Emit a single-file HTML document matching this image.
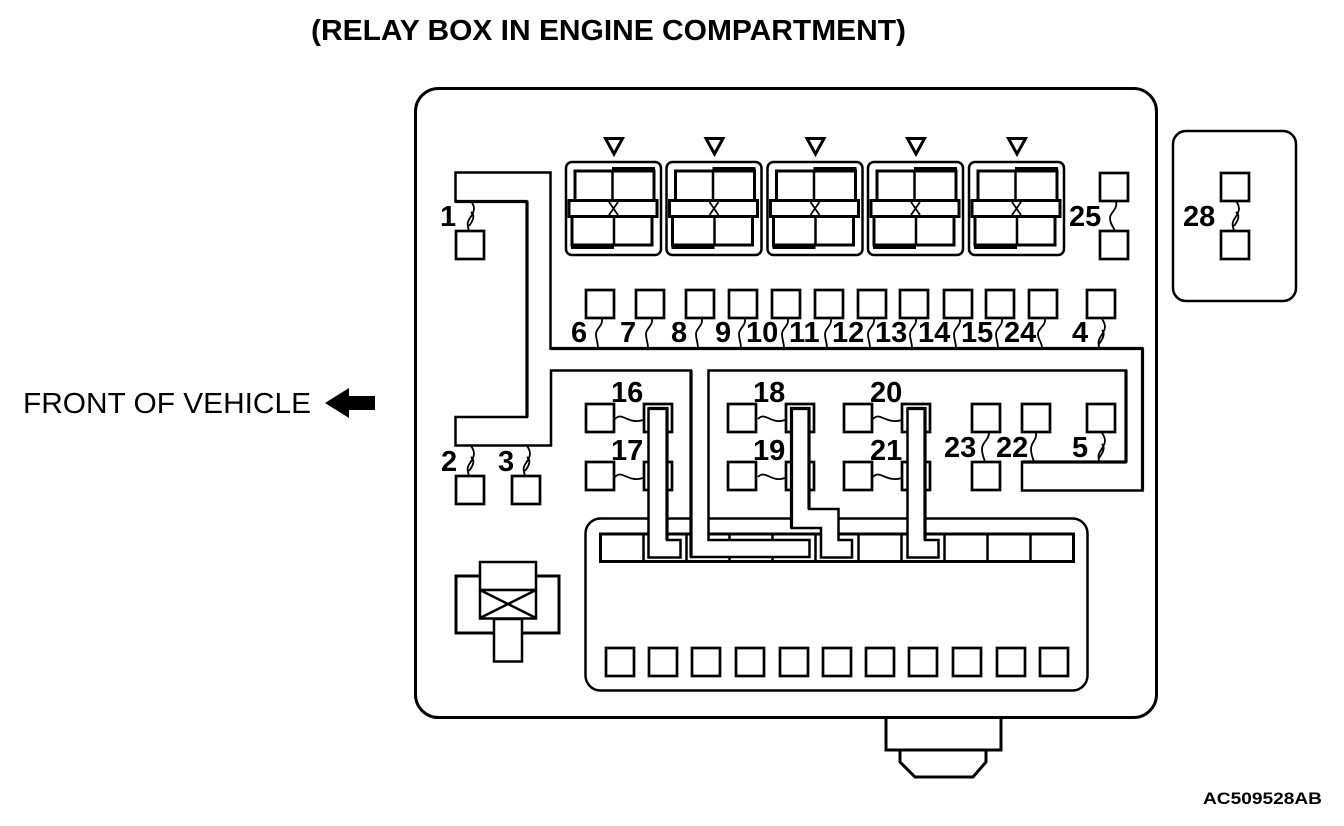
<!DOCTYPE html>
<html><head><meta charset="utf-8">
<style>
html,body{margin:0;padding:0;background:#fff;width:1344px;height:826px;overflow:hidden}
svg{display:block}
text{font-family:"Liberation Sans",sans-serif;fill:#000}
.n{font-weight:bold;font-size:29px}
</style></head><body>
<svg width="1344" height="826" viewBox="0 0 1344 826" xmlns="http://www.w3.org/2000/svg">
<defs>
<g id="relay">
<path d="M37.5 -27.5H54.5L46 -12Z" fill="#fff" stroke="#000" stroke-width="3"/>
<rect x="-2" y="-4" width="95" height="93" rx="6" fill="#fff" stroke="#000" stroke-width="2.5"/>
<rect x="7" y="5" width="79" height="33" fill="#fff" stroke="#000" stroke-width="3"/>
<rect x="4" y="46" width="80" height="33" fill="#fff" stroke="#000" stroke-width="3"/>
<path d="M44.5 5V38M46 46V79" stroke="#000" stroke-width="2.5" fill="none"/>
<rect x="44" y="1" width="43" height="5" fill="#000"/>
<rect x="3" y="78" width="43" height="5" fill="#000"/>
<rect x="1" y="34.5" width="88" height="16" fill="#fff" stroke="#000" stroke-width="3"/>
<path d="M41 36L50 49M50 36L41 49" stroke="#000" stroke-width="1.8"/>
</g>
<rect id="s" width="28" height="28" fill="#fff" stroke="#000" stroke-width="2.7"/>
</defs>
<text x="311" y="40" font-size="29" font-weight="bold" textLength="595" lengthAdjust="spacingAndGlyphs">(RELAY BOX IN ENGINE COMPARTMENT)</text>
<text x="23" y="413" font-size="29" textLength="288" lengthAdjust="spacingAndGlyphs">FRONT OF VEHICLE</text>
<path d="M325 403L349 388V396H375V410H349V418Z" fill="#000"/>
<text x="1203" y="804" font-size="17" font-weight="bold" textLength="119" lengthAdjust="spacingAndGlyphs">AC509528AB</text>

<path d="M900 750V762L915 777H973L986 762V750" fill="#fff" stroke="#000" stroke-width="3"/>
<path d="M886 717V750H1001V717Z" fill="#fff" stroke="#000" stroke-width="3"/>
<rect x="415.5" y="88.5" width="741" height="629" rx="23" fill="#fff" stroke="#000" stroke-width="3"/>
<rect x="1173" y="131" width="123" height="170" rx="13" fill="#fff" stroke="#000" stroke-width="2.5"/>

<use href="#relay" x="568" y="166"/>
<use href="#relay" x="668.5" y="166"/>
<use href="#relay" x="769.5" y="166"/>
<use href="#relay" x="870" y="166"/>
<use href="#relay" x="971" y="166"/>

<!-- small squares -->
<use href="#s" x="456" y="231"/>
<use href="#s" x="1100" y="173"/><use href="#s" x="1100" y="231"/>
<use href="#s" x="1221" y="173"/><use href="#s" x="1221" y="231"/>
<use href="#s" x="586" y="290"/><use href="#s" x="636" y="290"/><use href="#s" x="686" y="290"/><use href="#s" x="729" y="290"/><use href="#s" x="772" y="290"/><use href="#s" x="815" y="290"/><use href="#s" x="858" y="290"/><use href="#s" x="900" y="290"/><use href="#s" x="944" y="290"/><use href="#s" x="986" y="290"/><use href="#s" x="1029" y="290"/><use href="#s" x="1087" y="290"/>
<use href="#s" x="456" y="476"/><use href="#s" x="512" y="476"/>
<use href="#s" x="586" y="404"/><use href="#s" x="586" y="462"/>
<use href="#s" x="644" y="404"/><use href="#s" x="644" y="462"/>
<use href="#s" x="728" y="404"/><use href="#s" x="728" y="462"/>
<use href="#s" x="786" y="404"/><use href="#s" x="786" y="462"/>
<use href="#s" x="844" y="404"/><use href="#s" x="844" y="462"/>
<use href="#s" x="902" y="404"/><use href="#s" x="902" y="462"/>
<use href="#s" x="972" y="404"/><use href="#s" x="972" y="462"/>
<use href="#s" x="1022" y="404"/>
<use href="#s" x="1087" y="404"/>

<!-- lower connector -->
<rect x="585.5" y="518.5" width="502" height="172" rx="15" fill="none" stroke="#000" stroke-width="2.5"/>
<rect x="600.5" y="534" width="473" height="27.5" fill="#fff" stroke="#000" stroke-width="3"/>
<path d="M643.5 534V561M686.5 534V561M729.5 534V561M772.5 534V561M815.5 534V561M858.5 534V561M901.5 534V561M944.5 534V561M987.5 534V561M1030.5 534V561" stroke="#000" stroke-width="2.5" fill="none"/>
<use href="#s" x="606" y="648"/><use href="#s" x="649" y="648"/><use href="#s" x="692" y="648"/><use href="#s" x="736" y="648"/><use href="#s" x="780" y="648"/><use href="#s" x="823" y="648"/><use href="#s" x="866" y="648"/><use href="#s" x="909" y="648"/><use href="#s" x="953" y="648"/><use href="#s" x="997" y="648"/><use href="#s" x="1040" y="648"/>

<!-- bottom-left part -->
<rect x="456" y="576" width="103" height="57" fill="#fff" stroke="#000" stroke-width="3"/>
<rect x="480" y="562" width="56" height="28" fill="#fff" stroke="#000" stroke-width="2.5"/>
<rect x="480" y="590" width="56" height="28.5" fill="#fff" stroke="#000" stroke-width="2.5"/>
<path d="M480 590L536 618M536 590L480 618" stroke="#000" stroke-width="2.5"/>
<rect x="494" y="619" width="28" height="42.5" fill="#fff" stroke="#000" stroke-width="2.5"/>

<!-- wire channel -->
<path d="M455.5 172.5H550.5V348.5H1142.5V490.5H1022V462.5H1126V370.5H708.5V540H809.5V557H691.5V370.5H551.5V445.5H455.5V417H527V201.5H455.5Z" fill="#fff" stroke="none"/>
<path d="M527 417H455.5V445.5H551V370.5H691V557H809.5V540H708.5V370.5H1126V462H1022V490.5H1142.5V348.5H550.5V172.5H455.5V201.5H527Z" fill="none" stroke="#000" stroke-width="2.5"/>
<path d="M527 201.5V417M455.5 201.5H527M691 370.5V557M1126 370V462M1022 462H1126M1142.5 348.5V490.5M550.5 348.5H1142.5" fill="none" stroke="#000" stroke-width="3.2"/>

<!-- L wires -->
<path d="M648.5 408.5H667V540H680.5V557.5H648.5Z" fill="#fff" stroke="#000" stroke-width="2.5"/>
<path d="M648.5 408.5H667V540" fill="none" stroke="#000" stroke-width="3.2"/>
<path d="M791.5 408.5H809V509H838.5V540H852V557.5H821V528H791.5Z" fill="#fff" stroke="#000" stroke-width="2.5"/>
<path d="M791.5 528V408.5H809V509" fill="none" stroke="#000" stroke-width="3.2"/>
<path d="M907.5 408.5H925V540H938.5V557.5H907.5Z" fill="#fff" stroke="#000" stroke-width="2.5"/>
<path d="M907.5 408.5H925V540" fill="none" stroke="#000" stroke-width="3.2"/>

<!-- squiggles -->
<g fill="none" stroke="#000" stroke-width="1.8">
<path d="M602 319C603 326 596 328 596 334C596 340 598 342 598 348"/>
<path d="M652 319C653 326 646 328 646 334C646 340 648 342 648 348"/>
<path d="M702 319C703 326 696 328 696 334C696 340 698 342 698 348"/>
<path d="M745 319C746 326 739 328 739 334C739 340 741 342 741 348"/>
<path d="M788 319C789 326 782 328 782 334C782 340 784 342 784 348"/>
<path d="M831 319C832 326 825 328 825 334C825 340 827 342 827 348"/>
<path d="M874 319C875 326 868 328 868 334C868 340 870 342 870 348"/>
<path d="M916 319C917 326 910 328 910 334C910 340 912 342 912 348"/>
<path d="M960 319C961 326 954 328 954 334C954 340 956 342 956 348"/>
<path d="M1002 319C1003 326 996 328 996 334C996 340 998 342 998 348"/>
<path d="M1045 319C1046 326 1038 328 1038 334C1038 340 1042 342 1042 348"/>
<path d="M1116 201C1118 210 1110 212 1110 218C1110 224 1113 226 1115 231"/>
<path d="M989 433C989 440 982 442 982 449C982 455 984 458 985 462"/>
<path d="M1036 433C1037 440 1031 442 1031 449C1031 455 1033 458 1034 462"/>
<!-- double -->
<path d="M471 201C476 208 474 212 470 218C466 224 468 226 469 231M471 212C476 216 472 222 469 226"/>
<path d="M1236 201C1241 208 1239 212 1235 218C1231 224 1233 226 1234 231M1236 212C1241 216 1237 222 1234 226"/>
<path d="M471 446C476 453 474 457 470 463C466 469 468 471 469 476M471 457C476 461 472 467 469 471"/>
<path d="M527 446C532 453 530 457 526 463C522 469 524 471 525 476M527 457C532 461 528 467 525 471"/>
<path d="M1102 319C1107 326 1105 330 1101 336C1097 342 1099 344 1099 348M1102 330C1106 334 1102 340 1099 344"/>
<path d="M1102 433C1107 440 1105 444 1101 450C1097 456 1099 458 1099 462M1102 444C1106 448 1102 454 1099 458"/>
<!-- horizontal -->
<path d="M615 419C622 411 628 425 643 420"/>
<path d="M615 477C622 469 628 483 643 478"/>
<path d="M758 419C765 411 771 425 785 420"/>
<path d="M758 477C765 469 771 483 785 478"/>
<path d="M873 419C880 411 886 425 902 420"/>
<path d="M873 477C880 469 886 483 902 478"/>
</g>

<!-- labels -->
<text class="n" x="440" y="226">1</text>
<text class="n" x="1069" y="226">25</text>
<text class="n" x="1183" y="226">28</text>
<text class="n" x="571" y="342">6</text>
<text class="n" x="620" y="342">7</text>
<text class="n" x="671" y="342">8</text>
<text class="n" x="715" y="342">9</text>
<text class="n" x="746" y="342">10</text>
<text class="n" x="789" y="342">11</text>
<text class="n" x="832" y="342">12</text>
<text class="n" x="875" y="342">13</text>
<text class="n" x="918" y="342">14</text>
<text class="n" x="961" y="342">15</text>
<text class="n" x="1004" y="342">24</text>
<text class="n" x="1072" y="342">4</text>
<text class="n" x="441" y="471">2</text>
<text class="n" x="498" y="471">3</text>
<text class="n" x="611" y="402">16</text>
<text class="n" x="611" y="460">17</text>
<text class="n" x="753" y="402">18</text>
<text class="n" x="753" y="460">19</text>
<text class="n" x="870" y="402">20</text>
<text class="n" x="870" y="460">21</text>
<text class="n" x="944" y="457">23</text>
<text class="n" x="996" y="457">22</text>
<text class="n" x="1072" y="457">5</text>
</svg>
</body></html>
